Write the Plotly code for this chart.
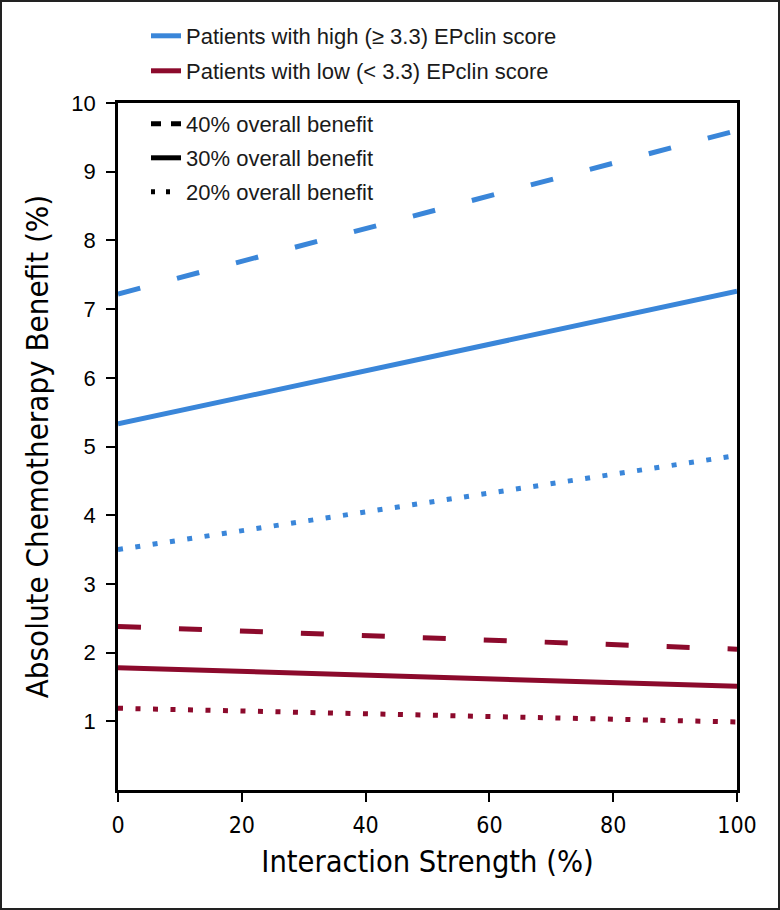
import plotly.graph_objects as go

# Data: interaction strength (%) endpoints and absolute chemotherapy benefit (%)
x_strength = [0, 100]
high_40 = [7.22, 9.60]
high_30 = [5.33, 7.26]
high_20 = [3.50, 4.87]
low_40 = [2.38, 2.05]
low_30 = [1.78, 1.51]
low_20 = [1.19, 0.99]

y_ticks = [1, 2, 3, 4, 5, 6, 7, 8, 9, 10]
x_ticks = [0, 20, 40, 60, 80, 100]

BLUE = "#3a86d9"
RED = "#8c0a2c"
DASH = "23px,38px"
DOT = "5px,12.5px"

W, H = 780, 910
L, R, T, B = 118, 43, 103, 120
pw, ph = W - L - R, H - T - B

COND = "Liberation Sans Narrow, DejaVu Sans Condensed, sans-serif"
SANS = "Liberation Sans, Arial, sans-serif"

fig = go.Figure()

series = [
    (high_40, BLUE, DASH), (high_30, BLUE, "solid"), (high_20, BLUE, DOT),
    (low_40, RED, DASH), (low_30, RED, "solid"), (low_20, RED, DOT),
]
for ys, col, dash in series:
    fig.add_trace(go.Scatter(x=x_strength, y=ys, mode="lines",
                             line=dict(color=col, width=5, dash=dash),
                             showlegend=False, hoverinfo="skip"))

# Legend entries (each in its own legend for exact placement)
legend_items = [
    ("Patients with high (≥ 3.3) EPclin score", BLUE, "solid", "legend", 36),
    ("Patients with low (< 3.3) EPclin score", RED, "solid", "legend2", 71),
    ("40% overall benefit", "black", "10px,10px", "legend3", 124),
    ("30% overall benefit", "black", "solid", "legend4", 158),
    ("20% overall benefit", "black", "4px,11px", "legend5", 192),
]
layout_legends = {}
for name, col, dash, lg, ypix in legend_items:
    fig.add_trace(go.Scatter(x=[None], y=[None], mode="lines", name=name,
                             line=dict(color=col, width=5, dash=dash),
                             legend=lg, showlegend=True))
    layout_legends[lg] = dict(
        x=(146 - L) / pw, xanchor="left",
        y=1 + (T - ypix) / ph, yanchor="middle",
        bgcolor="rgba(0,0,0,0)", borderwidth=0,
        font=dict(family=SANS, size=22, color="#1a1a1a"),
        itemwidth=30, tracegroupgap=0,
    )

fig.update_layout(
    width=W, height=H,
    margin=dict(l=L, r=R, t=T, b=B, pad=0),
    paper_bgcolor="white", plot_bgcolor="white",
    **layout_legends,
    xaxis=dict(range=[0, 100], tickvals=x_ticks, ticks="outside", ticklen=9,
               tickwidth=2, tickcolor="black", showline=True, linecolor="black",
               linewidth=2.5, mirror=True, showgrid=False, zeroline=False,
               ticklabelstandoff=4,
               tickfont=dict(family=COND, size=23, color="black"),
               title=dict(text="Interaction Strength (%)", standoff=14,
                          font=dict(family=COND, size=30.5, color="black"))),
    yaxis=dict(range=[0, 10], tickvals=y_ticks, ticks="outside", ticklen=9,
               tickwidth=2, tickcolor="black", showline=True, linecolor="black",
               linewidth=2.5, mirror=True, showgrid=False, zeroline=False,
               ticklabelstandoff=6,
               tickfont=dict(family=SANS, size=22, color="black"),
               title=dict(text="Absolute Chemotherapy Benefit (%)", standoff=14,
                          font=dict(family=COND, size=31, color="black"))),
    shapes=[dict(type="rect", xref="paper", yref="paper",
                 x0=-(L - 1) / pw, x1=1 + (R - 1) / pw,
                 y0=-(B - 1) / ph, y1=1 + (T - 1) / ph,
                 line=dict(color="#222", width=2), fillcolor="rgba(0,0,0,0)")],
)

fig.write_html("out.html",
               config={"displayModeBar": False},
               post_script="document.body.style.margin='0';document.body.style.overflow='hidden';")
